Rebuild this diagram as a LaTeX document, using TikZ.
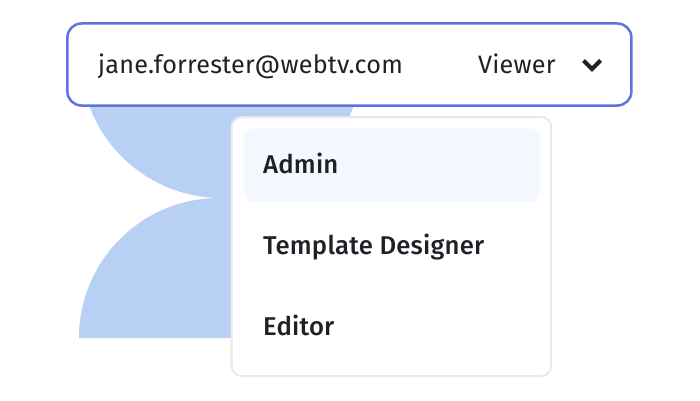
\documentclass[tikz,border=0pt]{standalone}
\usepackage{fontspec}
\setmainfont{Fira Sans}[LetterSpace=0.8]
\newfontfamily\medfont{Fira Sans Medium}[LetterSpace=0.8]
\usetikzlibrary{positioning}
\definecolor{shapeblue}{HTML}{B9D0F5}
\definecolor{fieldblue}{HTML}{5F73E0}
\definecolor{cardgray}{HTML}{E9E9EA}
\definecolor{rowblue}{HTML}{F4F8FF}
\definecolor{inkdark}{HTML}{1E2126}
\tikzset{
    fieldbox/.style={draw=fieldblue, line width=2.5pt, fill=white, rounded corners=14pt, minimum width=564pt, minimum height=82pt, inner sep=0pt},
    cardbox/.style={draw=cardgray, line width=2pt, fill=white, rounded corners=10pt, minimum width=319.5pt, minimum height=259pt, inner sep=0pt},
    rowbox/.style={fill=rowblue, rounded corners=12pt, minimum width=296pt, minimum height=74.5pt, inner sep=0pt},
    fieldtext/.style={anchor=base west, inner sep=0pt, text=inkdark, font=\fontsize{25.2}{29}\selectfont},
    itemtext/.style={anchor=base west, inner sep=0pt, text=inkdark, font=\medfont\fontsize{25.7}{29}\selectfont}
}
\begin{document}
\begin{tikzpicture}[x=1pt,y=1pt]
    \useasboundingbox (0,0) rectangle (700,400);
    % blue shape behind
    \fill[shapeblue] (329.5,252.4) arc[start angle=320, end angle=339.67, radius=141]
        -- (89.3,294) arc[start angle=200.33, end angle=270, radius=141]
        -- (219,202) arc[start angle=90, end angle=180, radius=140]
        -- (300,62) -- cycle;
    \node[fieldbox] (field) at (349.4,335.5) {};
    \node[cardbox] (card) at (391.4,153.5) {};
    \node[rowbox] (admin) at (392,234.6) {};
    % texts
    \node[fieldtext] (email) at (98,326.5) {jane.forrester@webtv.com};
    \node[fieldtext] (viewer) at (478,326.5) {Viewer};
    \node[itemtext] (adminlabel) at (263,227) {Admin};
    \node[itemtext] (designer) at (263,146) {Template Designer};
    \node[itemtext] (editor) at (263,65) {Editor};
    % chevron
    \draw[inkdark, line width=4pt, line join=miter] (583.5,339.5) -- (592,331) -- (600.5,339.5);
\end{tikzpicture}
\end{document}
